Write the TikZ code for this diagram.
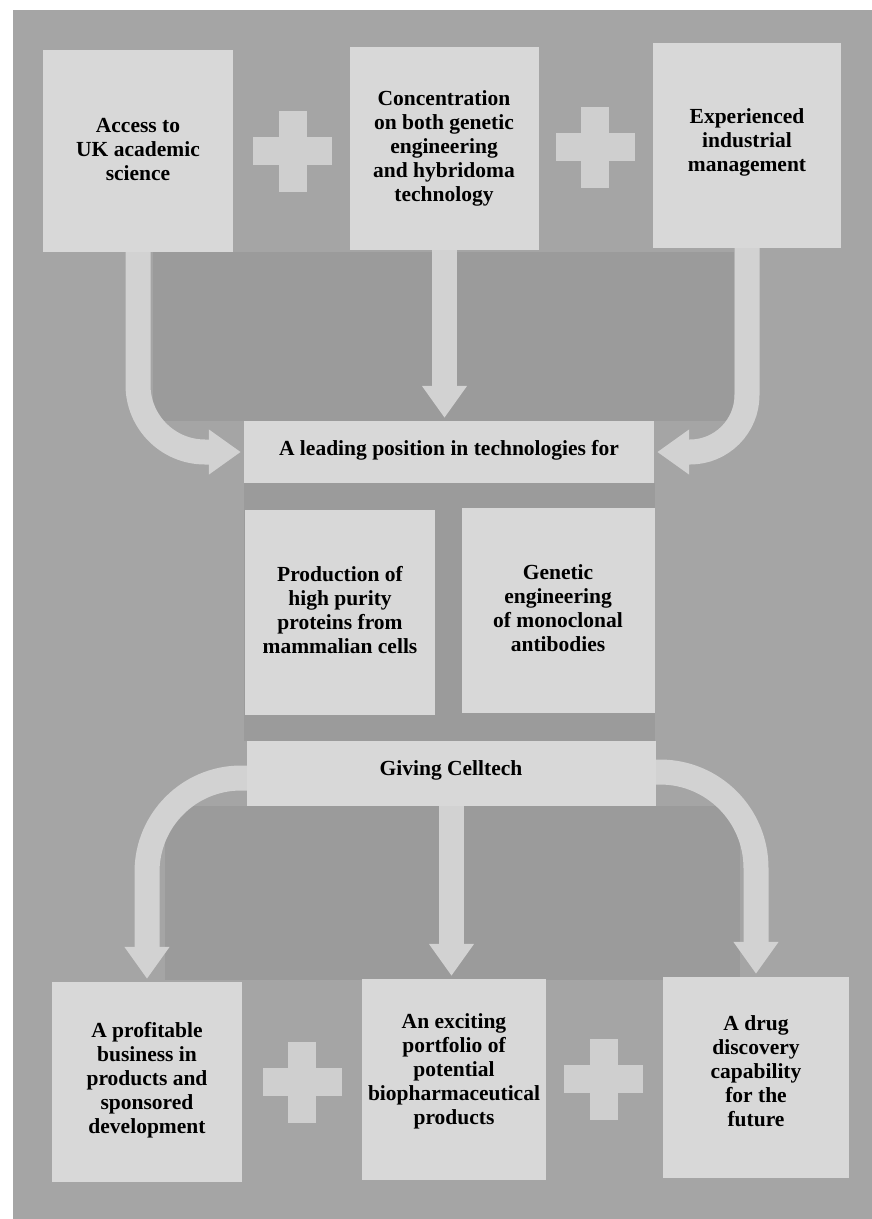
\documentclass[tikz,border=0pt]{standalone}
\usepackage{fontspec}
\setmainfont{Liberation Serif}
\usetikzlibrary{arrows.meta}
\definecolor{bgc}{HTML}{A5A5A5}
\definecolor{darkc}{HTML}{9B9B9B}
\definecolor{boxc}{HTML}{D8D8D8}
\definecolor{arrc}{HTML}{D2D2D2}
\definecolor{plusc}{HTML}{CFCFCF}
\begin{document}
\begin{tikzpicture}[x=1pt,y=-1pt,
  box/.style={fill=boxc, draw=none, inner sep=0pt},
  txt/.style={align=center, font=\bfseries\fontsize{21.5}{24}\selectfont, inner sep=0pt, text=black},
  bigarrow/.style={draw=arrc, line width=25pt, shorten >=3pt, -{Triangle[width=43pt,length=32pt]}},
  plussign/.pic={\fill[plusc] (-14,-40.5) rectangle (14,40.5); \fill[plusc] (-39.5,-14) rectangle (39.5,14);}]
\useasboundingbox (0,0) rectangle (872,1219);
\fill[white] (0,0) rectangle (872,1219);
\fill[bgc] (13,10) rectangle (872,1219);
% darker areas
\fill[darkc] (153,252) rectangle (734,421);
\fill[darkc] (244,483) rectangle (655,741);
\fill[darkc] (165,806) rectangle (740,980);
% boxes
\node[box, minimum width=190pt, minimum height=202pt] (b1) at (138,151) {};
\node[box, minimum width=189pt, minimum height=203pt] (b2) at (444.5,148.5) {};
\node[box, minimum width=188pt, minimum height=205pt] (b3) at (747,145.5) {};
\node[box, minimum width=410pt, minimum height=62pt] (lead) at (449,452) {};
\node[box, minimum width=190pt, minimum height=205pt] (prod) at (340,612.5) {};
\node[box, minimum width=193pt, minimum height=205pt] (gen) at (558.5,610.5) {};
\node[box, minimum width=409pt, minimum height=65pt] (give) at (451.5,773.5) {};
\node[box, minimum width=190pt, minimum height=200pt] (p1) at (147,1082) {};
\node[box, minimum width=184pt, minimum height=201pt] (p2) at (454,1079.5) {};
\node[box, minimum width=186pt, minimum height=201pt] (p3) at (756,1077.5) {};
% arrows
\draw[bigarrow, rounded corners=67pt] (b1.south) |- (lead.west);
\draw[bigarrow] (b2.south) -- (b2.south |- lead.north);
\draw[bigarrow, rounded corners=57pt] (b3.south) |- (lead.east);
\draw[bigarrow, rounded corners=94pt] ([yshift=-4.5pt]give.west) -| (p1.north);
\draw[bigarrow] (give.south) -- (give.south |- p2.north);
\draw[bigarrow, rounded corners=96pt] ([yshift=1.5pt]give.east) -| (p3.north);
% plus signs
\pic at (292.5,151) {plussign};
\pic at (595,147) {plussign};
\pic at (302,1082) {plussign};
\pic at (603.5,1079) {plussign};
% texts
\node[txt] (t1) at (138,150) {Access to\\UK academic\\science};
\node[txt] (t2) at (444,148) {Concentration\\on both genetic\\engineering\\and hybridoma\\technology};
\node[txt] (t3) at (747,142) {Experienced\\industrial\\management};
\node[txt] (tlead) at (449,450) {A leading position in technologies for};
\node[txt] (tprod) at (340,610) {Production of\\high purity\\proteins from\\mammalian cells};
\node[txt] (tgen) at (558,608) {Genetic\\engineering\\of monoclonal\\antibodies};
\node[txt] (tgive) at (451,770) {Giving Celltech};
\node[txt] (tp1) at (147,1080) {A profitable\\business in\\products and\\sponsored\\development};
\node[txt] (tp2) at (454,1071) {An exciting\\portfolio of\\potential\\biopharmaceutical\\products};
\node[txt] (tp3) at (756,1071) {A drug\\discovery\\capability\\for the\\future};
\end{tikzpicture}
\end{document}
